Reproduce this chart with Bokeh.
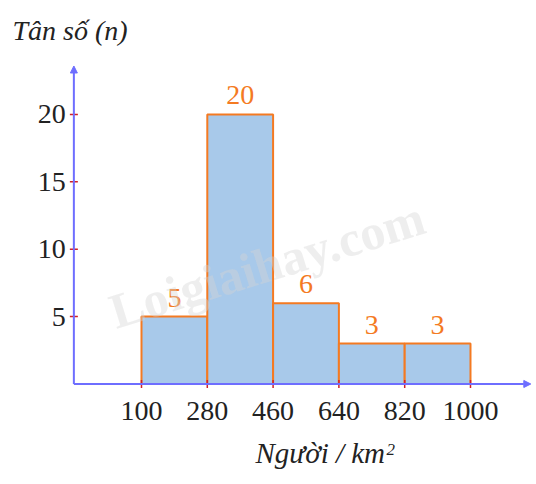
from bokeh.plotting import figure
from bokeh.models import Range1d, Arrow, NormalHead, Label
from bokeh.embed import file_html
from bokeh.resources import INLINE
from bokeh.core.properties import value

edges = [100, 280, 460, 640, 820, 1000]
freq = [5, 20, 6, 3, 3]
x_tick_labels = ["100", "280", "460", "640", "820", "1000"]
y_ticks = [5, 10, 15, 20]
y_tick_labels = ["5", "10", "15", "20"]
y_title = "Tân số (n)"
x_title = "Người / km"

SERIF = "Liberation Serif"
AXIS_C = "#6e6eff"
TICK_C = "#d0202a"
BAR_FILL = "#a8c9ea"
BAR_LINE = "#f47a22"
W, H = 534, 482

p = figure(width=W, height=H, output_backend="svg", toolbar_location=None,
           x_range=Range1d(-285.7, 1175.1), y_range=Range1d(-7.31, 28.46),
           x_axis_type=None, y_axis_type=None, min_border=0,
           outline_line_color=None, background_fill_color="white")

yax = -85

# bars
lefts = edges[:-1]
rights = edges[1:]
mids = [(a + b) / 2 for a, b in zip(lefts, rights)]
p.quad(left=lefts, right=rights, bottom=0, top=freq,
       fill_color=BAR_FILL, line_color=BAR_LINE, line_width=2)

# axes with arrows
p.add_layout(Arrow(end=NormalHead(size=7, fill_color=AXIS_C, line_color=AXIS_C),
                   x_start=yax, y_start=0, x_end=yax, y_end=23.6,
                   line_color=AXIS_C, line_width=2))
p.add_layout(Arrow(end=NormalHead(size=7, fill_color=AXIS_C, line_color=AXIS_C),
                   x_start=yax, y_start=0, x_end=1165, y_end=0,
                   line_color=AXIS_C, line_width=2))

# ticks
p.scatter(x=[yax] * len(y_ticks), y=y_ticks, marker="dash", size=8,
          line_color=TICK_C, line_width=1.5)
p.scatter(x=edges, y=[0] * len(edges), marker="dash", size=8, angle=1.5708,
          line_color=TICK_C, line_width=1.5)

# tick labels
p.text(x=edges, y=[0] * len(edges), text=x_tick_labels, text_align="center",
       text_baseline="middle", y_offset=27, text_font=value(SERIF),
       text_font_size="28px", text_color="#222222")
p.text(x=[yax] * len(y_ticks), y=y_ticks, text=y_tick_labels, text_align="right",
       text_baseline="middle", x_offset=-8, text_font=value(SERIF),
       text_font_size="28px", text_color="#222222")

# bar value labels
p.text(x=mids, y=freq, text=[str(v) for v in freq], text_align="center",
       text_baseline="alphabetic", y_offset=-19, text_font=value(SERIF),
       text_font_size="28px", text_color=BAR_LINE)

# titles
p.add_layout(Label(x=12, y=437, x_units="screen", y_units="screen", text=y_title,
                   text_font=SERIF, text_font_style="italic", text_font_size="28px",
                   text_baseline="bottom", text_color="#222222"))
p.add_layout(Label(x=255, y=14, x_units="screen", y_units="screen", text=x_title,
                   text_font=SERIF, text_font_style="italic", text_font_size="29px",
                   text_baseline="bottom", text_color="#222222"))
p.add_layout(Label(x=386, y=28, x_units="screen", y_units="screen", text="2",
                   text_font=SERIF, text_font_style="italic", text_font_size="17px",
                   text_baseline="bottom", text_color="#222222"))

# watermark
p.add_layout(Label(x=119, y=143, x_units="screen", y_units="screen",
                   text="Loigiaihay.com", angle=0.3, text_font=SERIF,
                   text_font_style="bold", text_font_size="50px",
                   text_baseline="bottom",
                   text_color="#d5d5d5", text_alpha=0.4))

open("out.html", "w").write(file_html(p, INLINE))
